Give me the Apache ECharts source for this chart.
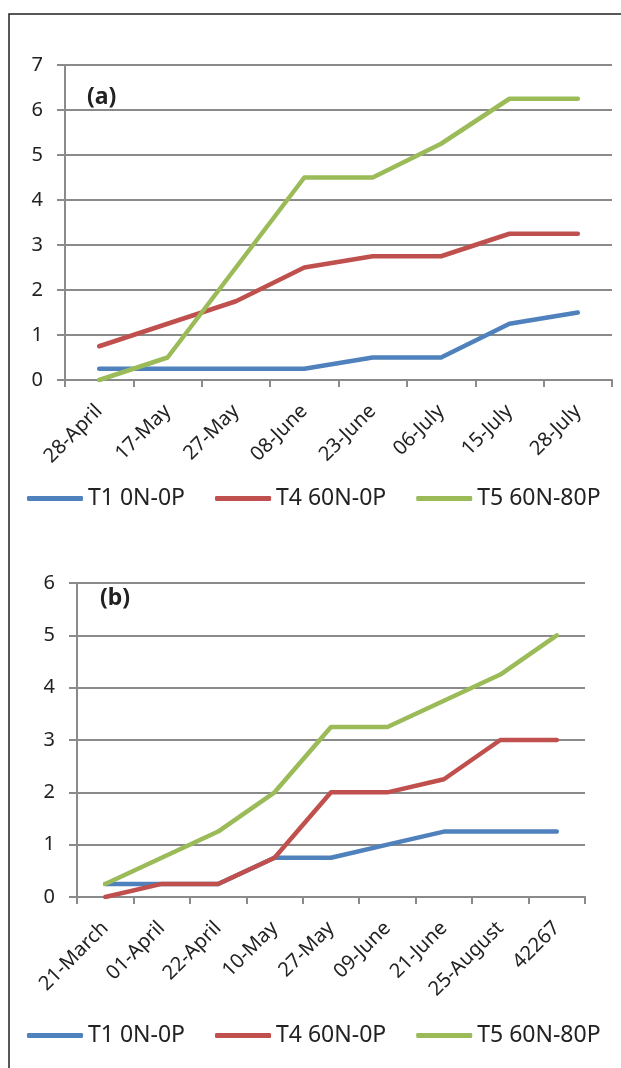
<!DOCTYPE html>
<html>
<head>
<meta charset="utf-8">
<script src="https://cdn.jsdelivr.net/npm/echarts@6/dist/echarts.min.js"></script>
<style>html,body{margin:0;padding:0;background:#fff}#c{width:621px;height:1068px}</style>
</head>
<body>
<div id="c"></div>
<script>
const seriesNames = ['T1 0N-0P', 'T4 60N-0P', 'T5 60N-80P'];
const colors = ['#4F81BD', '#C0504D', '#9BBB59'];

const catsA = ['28-April', '17-May', '27-May', '08-June', '23-June', '06-July', '15-July', '28-July'];
const t1A = [0.25, 0.25, 0.25, 0.25, 0.5, 0.5, 1.25, 1.5];
const t4A = [0.75, 1.25, 1.75, 2.5, 2.75, 2.75, 3.25, 3.25];
const t5A = [0, 0.5, 2.5, 4.5, 4.5, 5.25, 6.25, 6.25];

const catsB = ['21-March', '01-April', '22-April', '10-May', '27-May', '09-June', '21-June', '25-August', '42267'];
const t1B = [0.25, 0.25, 0.25, 0.75, 0.75, 1.0, 1.25, 1.25, 1.25];
const t4B = [0, 0.25, 0.25, 0.75, 2, 2, 2.25, 3, 3];
const t5B = [0.25, 0.75, 1.25, 2, 3.25, 3.25, 3.75, 4.25, 5];

const FONT = 'Noto Sans';
const TXT = '#222';
const GRIDC = '#8a8a8a';

function xAxis(idx, cats) {
  return {
    type: 'category', gridIndex: idx, data: cats, boundaryGap: true,
    axisLine: { lineStyle: { color: GRIDC, width: 2 } },
    axisTick: { show: true, length: 7, lineStyle: { color: GRIDC, width: 2 } },
    axisLabel: { rotate: 45, fontSize: 20, fontFamily: FONT, color: TXT, margin: 28, interval: 0 }
  };
}
function yAxis(idx, max) {
  return {
    type: 'value', gridIndex: idx, min: 0, max: max, interval: 1,
    axisLine: { show: true, lineStyle: { color: GRIDC, width: 2 } },
    axisTick: { show: true, length: 8, lineStyle: { color: GRIDC, width: 2 } },
    splitLine: { show: true, lineStyle: { color: GRIDC, width: 2 } },
    axisLabel: { fontSize: 20, fontFamily: FONT, color: TXT, margin: 22 }
  };
}
function line(name, data, color, idx) {
  return {
    type: 'line', name: name, data: data, xAxisIndex: idx, yAxisIndex: idx,
    showSymbol: false, symbol: 'none', animation: false,
    lineStyle: { color: color, width: 4.5, cap: 'round', join: 'round' },
    itemStyle: { color: color }
  };
}
function legend(top) {
  return {
    data: seriesNames, left: 27, top: top, padding: 0, itemWidth: 56, itemHeight: 5, itemGap: 30,
    icon: 'roundRect',
    textStyle: { fontSize: 23, fontFamily: FONT, color: TXT }
  };
}

const chart = echarts.init(document.getElementById('c'), null, { renderer: 'canvas' });
chart.setOption({
  animation: false,
  backgroundColor: '#fff',
  color: colors,
  grid: [
    { left: 65, right: 9, top: 65, height: 315 },
    { left: 77, right: 36, top: 583, height: 314 }
  ],
  xAxis: [xAxis(0, catsA), xAxis(1, catsB)],
  yAxis: [yAxis(0, 7), yAxis(1, 6)],
  legend: [legend(487), legend(1024)],
  series: [
    line(seriesNames[0], t1A, colors[0], 0),
    line(seriesNames[1], t4A, colors[1], 0),
    line(seriesNames[2], t5A, colors[2], 0),
    line(seriesNames[0], t1B, colors[0], 1),
    line(seriesNames[1], t4B, colors[1], 1),
    line(seriesNames[2], t5B, colors[2], 1)
  ],
  graphic: [
    { type: 'rect', shape: { x: 9, y: 14, width: 800, height: 1200 }, style: { fill: 'none', stroke: '#222', lineWidth: 1.5 }, silent: true },
    { type: 'text', left: 87, top: 86, style: { text: '(a)', fontSize: 23, fontWeight: 'bold', fontFamily: FONT, fill: TXT } },
    { type: 'text', left: 100, top: 587, style: { text: '(b)', fontSize: 23, fontWeight: 'bold', fontFamily: FONT, fill: TXT } }
  ]
});
</script>
</body>
</html>
